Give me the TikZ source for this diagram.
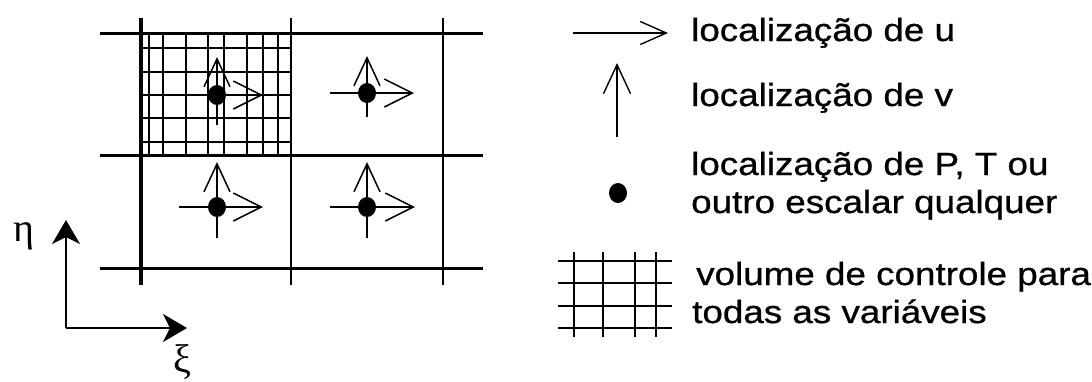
\documentclass[tikz,border=0pt]{standalone}
\usepackage{fontspec}
\setmainfont{Liberation Sans}
\newfontfamily\legfont[FakeStretch=1.15,FakeBold=0.8]{Liberation Sans}
\newfontfamily\grk{Liberation Serif}
\usetikzlibrary{arrows.meta,shapes.geometric}
\begin{document}
\begin{tikzpicture}[x=1pt,y=-1pt,
  thickline/.style={line width=3pt},
  fineline/.style={line width=1.7pt},
  dotnode/.style={ellipse,fill=black,inner sep=0pt,minimum width=18pt,minimum height=20pt},
  uarrow/.style={line width=1.5pt,-{Straight Barb[length=28pt,width=28pt,line width=1.5pt]}},
  varrow/.style={line width=1.5pt,-{Straight Barb[length=28pt,width=26pt,line width=1.5pt]}},
  axisarrow/.style={line width=1.4pt,-{Stealth[length=24pt,width=28pt,inset=7pt]}},
  legtext/.style={anchor=base west,inner sep=0pt,font=\fontsize{32}{38}\legfont},
  greek/.style={anchor=base,inner sep=0pt,font=\fontsize{40}{40}\selectfont\grk}]
\useasboundingbox (0,0) rectangle (1092,381);
% fine grid in control volume
\foreach \x in {149,163,186,208,224,247,263,278}
  \draw[fineline] (\x,33) -- (\x,155);
\foreach \y in {48,72,95,118,142}
  \draw[fineline] (141,\y) -- (291,\y);
% main grid
\foreach \y in {33,155,268}
  \draw[thickline] (100,\y) -- (483,\y);
\draw[line width=3.4pt] (141,18) -- (141,285);
\draw[line width=2.3pt] (291,18) -- (291,285);
\draw[line width=2.8pt] (443,18) -- (443,285);
% cell 1
\node[dotnode] (p1) at (217,95) {};
\coordinate (v1a) at (217,125); \coordinate (v1b) at (217,57);
\coordinate (u1a) at (180,95); \coordinate (u1b) at (263,95);
\draw[varrow] (v1a) -- (v1b);
\draw[uarrow] (u1a) -- (u1b);
% cell 2
\node[dotnode] (p2) at (367,93) {};
\coordinate (v2a) at (367,117); \coordinate (v2b) at (367,56);
\coordinate (u2a) at (330,93); \coordinate (u2b) at (414,93);
\draw[varrow] (v2a) -- (v2b);
\draw[uarrow] (u2a) -- (u2b);
% cell 3
\node[dotnode] (p3) at (217,207) {};
\coordinate (v3a) at (217,238); \coordinate (v3b) at (217,162);
\coordinate (u3a) at (179,207); \coordinate (u3b) at (263,207);
\draw[varrow] (v3a) -- (v3b);
\draw[uarrow] (u3a) -- (u3b);
% cell 4
\node[dotnode] (p4) at (367,207) {};
\coordinate (v4a) at (367,238); \coordinate (v4b) at (367,162);
\coordinate (u4a) at (330,207); \coordinate (u4b) at (415,207);
\draw[varrow] (v4a) -- (v4b);
\draw[uarrow] (u4a) -- (u4b);
% axes
\coordinate (o) at (66,328);
\coordinate (etatip) at (66,220);
\coordinate (xitip) at (187,328);
\draw[axisarrow] (o) -- (etatip);
\draw[axisarrow] (o) -- (xitip);
\node[greek] (eta) at (24,241) {η};
\node[greek] (xi) at (182,372) {ξ};
% legend
\coordinate (lua) at (573,33); \coordinate (lub) at (668,33);
\draw[line width=1.4pt,-{Straight Barb[length=26pt,width=23pt,line width=1.4pt]}] (lua) -- (lub);
\coordinate (lva) at (617,137); \coordinate (lvb) at (617,63);
\draw[line width=1.4pt,-{Straight Barb[length=29pt,width=27pt,line width=1.4pt]}] (lva) -- (lvb);
\node[dotnode] (lp) at (618,193) {};
\foreach \x in {574,603,635,656}
  \draw[line width=1.4pt] (\x,252) -- (\x,337);
\foreach \y in {261,283,306,328}
  \draw[line width=1.4pt] (558,\y) -- (672,\y);
\node[legtext] (t1) at (691,41) {localização de u};
\node[legtext] (t2) at (691,106) {localização de v};
\node[legtext] (t3) at (691,175) {localização de P, T ou};
\node[legtext] (t4) at (691,213) {outro escalar qualquer};
\node[legtext] (t5) at (696,285) {volume de controle para};
\node[legtext] (t6) at (692,323) {todas as variáveis};
\end{tikzpicture}
\end{document}
